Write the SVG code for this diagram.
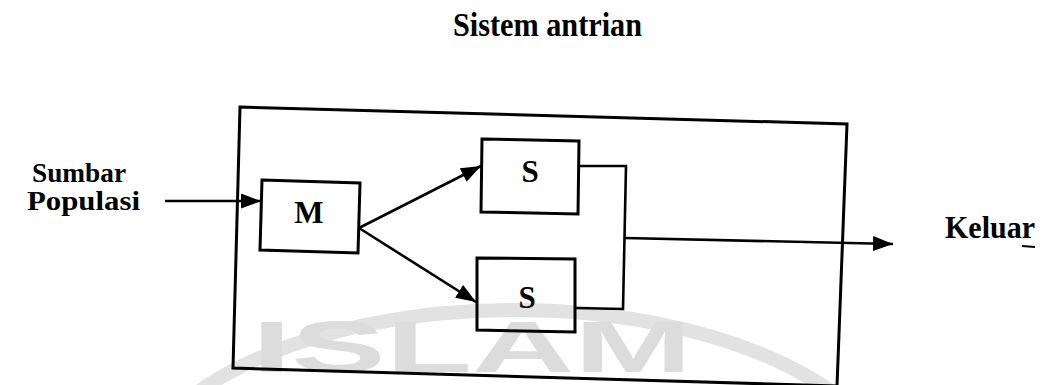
<svg xmlns="http://www.w3.org/2000/svg" width="1048" height="385" viewBox="0 0 1048 385">
  <style>
    .lbl { font-family: "Liberation Serif", "Times New Roman", serif; font-weight: bold; fill: #000; }
    .box { fill: none; stroke: #000; stroke-width: 3; stroke-linejoin: miter; }
    .wire { fill: none; stroke: #000; stroke-width: 2.6; }
    .wm { fill: #dcdcdc; font-family: "Liberation Sans", Arial, sans-serif; font-weight: bold; }
  </style>
  <defs>
    <marker id="head" markerUnits="userSpaceOnUse" markerWidth="20" markerHeight="15" refX="20" refY="7.5" orient="auto">
      <path d="M0,0 L20,7.5 L0,15 z" fill="#000"/>
    </marker>
  </defs>

  <rect width="1048" height="385" fill="#fff"/>

  <!-- faint background emblem -->
  <g id="emblem">
    <ellipse cx="515" cy="500" rx="385" ry="190" fill="none" stroke="#e2e2e2" stroke-width="14"/>
    <text class="wm" x="252" y="372" font-size="72" textLength="440" lengthAdjust="spacingAndGlyphs">ISLAM</text>
  </g>

  <!-- heading -->
  <g id="title">
    <text class="lbl" x="453" y="36" font-size="34" textLength="189" lengthAdjust="spacingAndGlyphs">Sistem antrian</text>
  </g>

  <!-- queue system boundary -->
  <g id="system">
    <path class="box" d="M240,107 L847,124 L837,386 L233,368 Z"/>
  </g>

  <g id="source">
    <text class="lbl" x="32" y="182" font-size="28" textLength="94" lengthAdjust="spacingAndGlyphs">Sumbar</text>
    <text class="lbl" x="27" y="210" font-size="28" textLength="113" lengthAdjust="spacingAndGlyphs">Populasi</text>
  </g>

  <g id="queue-m">
    <path class="box" d="M262,180 L360,183 L358,253 L260,250 Z"/>
    <text class="lbl" x="309" y="223" font-size="31" text-anchor="middle">M</text>
  </g>

  <g id="server-top">
    <path class="box" d="M482,139 L579,141 L578,214 L481,212 Z"/>
    <text class="lbl" x="530" y="182" font-size="31" text-anchor="middle">S</text>
  </g>

  <g id="server-bottom">
    <path class="box" d="M477,258 L575,259 L575,332 L477,330 Z"/>
    <text class="lbl" x="527" y="308" font-size="31" text-anchor="middle">S</text>
  </g>

  <g id="exit">
    <text class="lbl" x="945" y="238" font-size="31" textLength="90" lengthAdjust="spacingAndGlyphs">Keluar</text>
    <line x1="1022" y1="246" x2="1035" y2="247" stroke="#000" stroke-width="1.8"/>
  </g>

  <g id="connectors">
    <path class="wire" d="M165,201 L261,201" marker-end="url(#head)"/>
    <path class="wire" d="M359,228 L481,166" marker-end="url(#head)"/>
    <path class="wire" d="M359,228 L476,302" marker-end="url(#head)"/>
    <path class="wire" d="M579,166 L626,166 L623,309 L575,308"/>
    <path class="wire" d="M625,238 L893,244" marker-end="url(#head)"/>
  </g>
</svg>
